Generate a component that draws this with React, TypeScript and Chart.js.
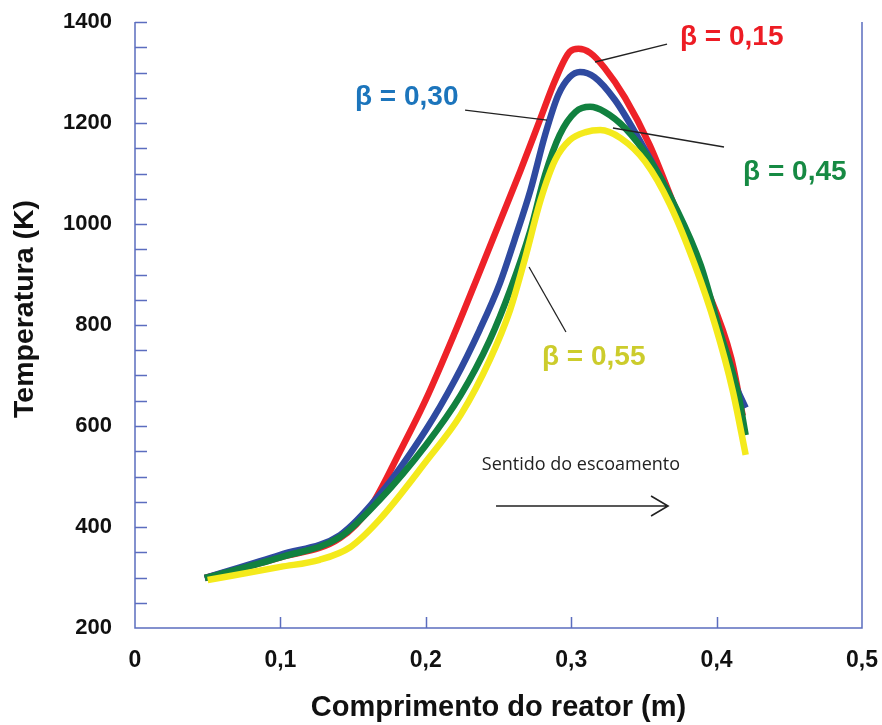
import React, { useEffect, useRef } from "react";
import { Chart, registerables } from "chart.js";

Chart.register(...registerables);

// ---------- data ----------
const xTicksMin = 0;
const xTicksMax = 0.5;
const yTicksMin = 200;
const yTicksMax = 1400;

const redX = [0.048, 0.1, 0.141, 0.162, 0.182, 0.2, 0.22, 0.237, 0.251, 0.265, 0.279, 0.289, 0.299, 0.305, 0.313, 0.323, 0.337, 0.354, 0.369, 0.39, 0.41, 0.418];
const redY = [299, 340, 378, 440, 548, 652, 785, 905, 1005, 1105, 1210, 1285, 1341, 1347, 1339, 1309, 1250, 1156, 1050, 895, 735, 620];

const blueX = [0.048, 0.1, 0.141, 0.168, 0.2, 0.22, 0.237, 0.251, 0.261, 0.272, 0.282, 0.291, 0.299, 0.306, 0.316, 0.33, 0.347, 0.369, 0.389, 0.402, 0.413, 0.42];
const blueY = [299, 345, 384, 463, 592, 691, 790, 883, 968, 1067, 1176, 1255, 1291, 1301, 1291, 1246, 1166, 1048, 909, 780, 681, 636];

const greenX = [0.048, 0.1, 0.141, 0.168, 0.2, 0.224, 0.244, 0.258, 0.272, 0.282, 0.292, 0.303, 0.313, 0.323, 0.337, 0.354, 0.371, 0.389, 0.402, 0.415, 0.42];
const greenY = [299, 340, 380, 453, 562, 661, 770, 869, 988, 1097, 1176, 1222, 1232, 1222, 1190, 1127, 1038, 919, 790, 661, 582];

const yellowX = [0.05, 0.1, 0.127, 0.148, 0.168, 0.2, 0.224, 0.244, 0.258, 0.268, 0.279, 0.289, 0.299, 0.31, 0.32, 0.334, 0.351, 0.368, 0.385, 0.399, 0.411, 0.42];
const yellowY = [295, 321, 335, 360, 414, 529, 622, 731, 830, 929, 1048, 1127, 1166, 1182, 1186, 1170, 1123, 1038, 919, 800, 671, 543];

const seriesLabels = ["β = 0,15", "β = 0,30", "β = 0,45", "β = 0,55"];
const xTitle = "Comprimento do reator (m)";
const yTitle = "Temperatura (K)";
const flowText = "Sentido do escoamento";

// ---------- styles ----------
const AXIS_COLOR = "#5b6dbf";
const LINE_COLORS = ["#ee2228", "#2f4aa0", "#11813f", "#f4ea1c"];
const LABEL_COLORS = ["#ed1c24", "#1c75bc", "#168a43", "#cccc2c"];
const FONT = "'Liberation Sans', Arial, sans-serif";

// annotation anchors in data units: [labelX, labelY, lineX1, lineY1, lineX2, lineY2]
const annotations = [
  [0.3748, 1370, 0.3164, 1320.8, 0.3659, 1356.4],
  [0.1513, 1250, 0.227, 1225.7, 0.2834, 1205.9],
  [0.4182, 1103, 0.3287, 1190.1, 0.4051, 1152.5],
  [0.2799, 737, 0.271, 914.9, 0.2964, 786.1],
];

const toPts = (xs: number[], ys: number[]) => xs.map((x, i) => ({ x, y: ys[i] }));

const decorPlugin = {
  id: "decor",
  afterDraw(chart: any) {
    const { ctx, chartArea } = chart;
    const xs = chart.scales.x;
    const ys = chart.scales.y;
    ctx.save();
    // frame
    ctx.strokeStyle = AXIS_COLOR;
    ctx.lineWidth = 1.5;
    ctx.beginPath();
    ctx.moveTo(chartArea.left, chartArea.top);
    ctx.lineTo(chartArea.left, chartArea.bottom);
    ctx.lineTo(chartArea.right, chartArea.bottom);
    ctx.lineTo(chartArea.right, chartArea.top);
    ctx.stroke();
    // y ticks (every 50, inward)
    ctx.beginPath();
    for (let v = yTicksMin + 50; v <= yTicksMax; v += 50) {
      const py = Math.round(ys.getPixelForValue(v)) + 0.5;
      ctx.moveTo(chartArea.left, py);
      ctx.lineTo(chartArea.left + 12, py);
    }
    // x ticks (every 0.1, inward)
    for (let i = 1; i < 5; i++) {
      const px = Math.round(xs.getPixelForValue(i * 0.1)) + 0.5;
      ctx.moveTo(px, chartArea.bottom);
      ctx.lineTo(px, chartArea.bottom - 11);
    }
    ctx.stroke();

    // y title
    ctx.fillStyle = "#111";
    ctx.font = `bold 28.5px ${FONT}`;
    ctx.textAlign = "center";
    ctx.textBaseline = "middle";
    ctx.save();
    ctx.translate(25, (chartArea.top + chartArea.bottom) / 2 - 16);
    ctx.rotate(-Math.PI / 2);
    ctx.fillText(yTitle, 0, 0);
    ctx.restore();

    // series annotations
    annotations.forEach((a, i) => {
      ctx.strokeStyle = "#222";
      ctx.lineWidth = 1.3;
      ctx.beginPath();
      ctx.moveTo(xs.getPixelForValue(a[2]), ys.getPixelForValue(a[3]));
      ctx.lineTo(xs.getPixelForValue(a[4]), ys.getPixelForValue(a[5]));
      ctx.stroke();
      ctx.fillStyle = LABEL_COLORS[i];
      ctx.font = `bold 28px ${FONT}`;
      ctx.textAlign = "left";
      ctx.textBaseline = "middle";
      ctx.fillText(seriesLabels[i], xs.getPixelForValue(a[0]), ys.getPixelForValue(a[1]));
    });

    // flow direction text + arrow
    ctx.fillStyle = "#222";
    ctx.font = `18px 'Open Sans', sans-serif`;
    ctx.textAlign = "center";
    ctx.fillText(flowText, xs.getPixelForValue(0.3067), ys.getPixelForValue(523));
    const ax1 = xs.getPixelForValue(0.2483);
    const ax2 = xs.getPixelForValue(0.3666);
    const ay = ys.getPixelForValue(441.6);
    ctx.strokeStyle = "#222";
    ctx.lineWidth = 1.6;
    ctx.beginPath();
    ctx.moveTo(ax1, ay);
    ctx.lineTo(ax2, ay);
    ctx.moveTo(ax2 - 17, ay - 10);
    ctx.lineTo(ax2, ay);
    ctx.lineTo(ax2 - 17, ay + 10);
    ctx.stroke();
    ctx.restore();
  },
};

export default function App() {
  const ref = useRef<HTMLCanvasElement | null>(null);
  useEffect(() => {
    document.body.style.margin = "0";
    const canvas = ref.current;
    if (!canvas) return;
    const mk = (i: number, xs: number[], ysv: number[]) => ({
      label: seriesLabels[i],
      data: toPts(xs, ysv),
      borderColor: LINE_COLORS[i],
      backgroundColor: LINE_COLORS[i],
      borderWidth: 6.5,
      pointRadius: 0,
      cubicInterpolationMode: "monotone" as const,
      fill: false,
    });
    const chart = new Chart(canvas, {
      type: "line",
      data: {
        datasets: [
          mk(0, redX, redY),
          mk(1, blueX, blueY),
          mk(2, greenX, greenY),
          mk(3, yellowX, yellowY),
        ].reverse().map((d, i) => ({ ...d, order: i })),
      },
      options: {
        responsive: false,
        animation: false,
        layout: { padding: { left: 0, top: 22, right: 20, bottom: 0 } },
        plugins: { legend: { display: false }, tooltip: { enabled: false } },
        scales: {
          x: {
            type: "linear",
            min: xTicksMin,
            max: xTicksMax,
            grid: { display: false, drawTicks: false },
            border: { display: false },
            ticks: {
              stepSize: 0.1,
              padding: 19,
              color: "#111",
              font: { family: FONT, size: 23, weight: "bold" },
              callback: (v: any) => (Number(v) === 0 ? "0" : Number(v).toFixed(1).replace(".", ",")),
            },
            title: {
              display: true,
              text: xTitle,
              color: "#111",
              font: { family: FONT, size: 29, weight: "bold", lineHeight: 1.2 },
              padding: { top: 0, bottom: 0 },
            },
            afterFit: (s: any) => {
              s.height = 97;
              s.paddingLeft = 0;
              s.paddingRight = 0;
            },
          },
          y: {
            type: "linear",
            min: yTicksMin,
            max: yTicksMax,
            grid: { display: false, drawTicks: false },
            border: { display: false },
            ticks: {
              stepSize: 200,
              padding: 23,
              color: "#111",
              font: { family: FONT, size: 22, weight: "bold" },
              callback: (v: any) => String(v),
            },
            afterFit: (s: any) => {
              s.width = 135;
              s.paddingTop = 0;
              s.paddingBottom = 0;
            },
          },
        },
      },
      plugins: [decorPlugin],
    });
    return () => chart.destroy();
  }, []);
  return (
    <div style={{ width: 882, height: 725 }}>
      <canvas ref={ref} width={882} height={725} style={{ display: "block" }} />
    </div>
  );
}
